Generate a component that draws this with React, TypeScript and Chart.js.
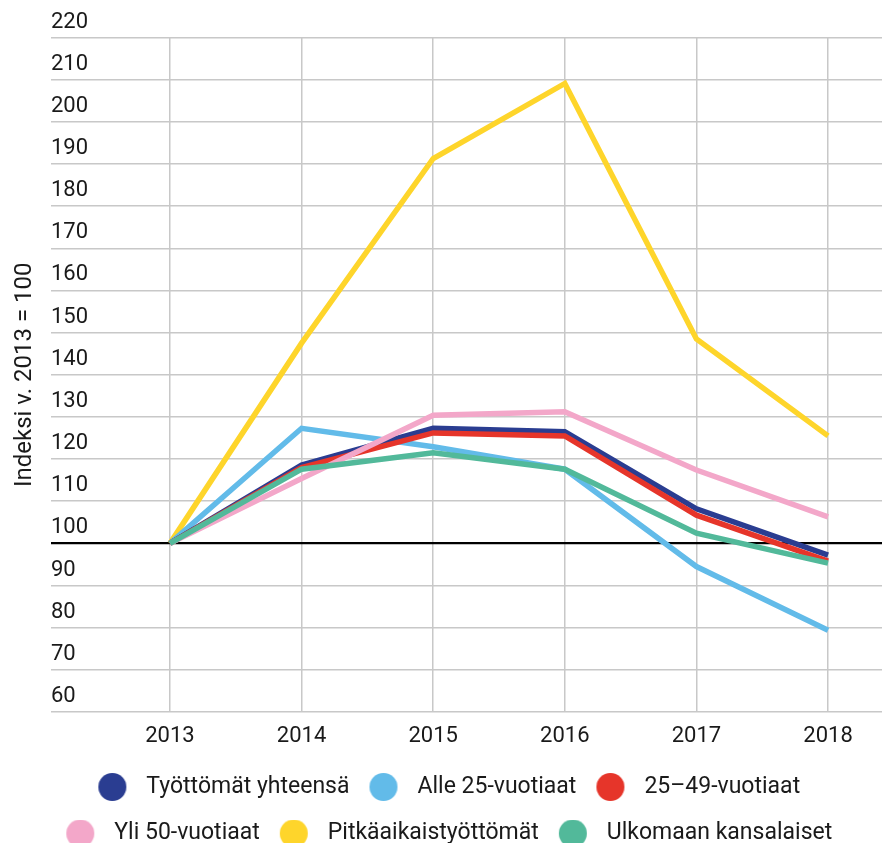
import React, { useEffect, useRef } from "react";
import { Chart, registerables } from "chart.js";

Chart.register(...registerables);

// ---- Data ----
const years = [2013, 2014, 2015, 2016, 2017, 2018];
const yTickValues = [60, 70, 80, 90, 100, 110, 120, 130, 140, 150, 160, 170, 180, 190, 200, 210, 220];

const seriesNames = [
  "Työttömät yhteensä",
  "Alle 25-vuotiaat",
  "25–49-vuotiaat",
  "Yli 50-vuotiaat",
  "Pitkäaikaistyöttömät",
  "Ulkomaan kansalaiset",
];

const totalUnemployed = [100, 118.6, 127.3, 126.5, 108.2, 97.2];
const under25 = [100, 127.3, 122.9, 117.6, 94.5, 79.4];
const age25to49 = [100, 118.0, 126.2, 125.5, 106.7, 95.8];
const over50 = [100, 115.4, 130.4, 131.2, 117.4, 106.3];
const longTerm = [100, 147.5, 191.3, 209.1, 148.5, 125.5];
const foreignNationals = [100, 117.6, 121.5, 117.6, 102.4, 95.3];

const yTitle = "Indeksi v. 2013 = 100";

// ---- Styles ----
const colors = ["#2a3d91", "#62bbe9", "#e6352a", "#f3a7c9", "#fed52b", "#52b99a"];
const drawOrder = [3, 4, 2, 1, 5, 0];
const gridGray = "#c8c8c8";
const textColor = "#1a1a1a";
const FONT = "Roboto";

const LEGEND_FONT = 23;
const LEGEND_PAD = 23.5;
const LEGEND_BOX = 33;

function makeDot(color: string): HTMLCanvasElement {
  const c = document.createElement("canvas");
  c.width = 42;
  c.height = 28;
  const g = c.getContext("2d")!;
  g.fillStyle = color;
  g.beginPath();
  g.arc(15, 14, 14, 0, Math.PI * 2);
  g.fill();
  return c;
}

export default function App() {
  const ref = useRef<HTMLCanvasElement>(null);

  useEffect(() => {
    document.body.style.margin = "0";
    const canvas = ref.current!;
    const allSeries = [totalUnemployed, under25, age25to49, over50, longTerm, foreignNationals];
    const dots = colors.map(makeDot);

    const chart = new Chart(canvas, {
      type: "line",
      data: {
        datasets: allSeries.map((vals, i) => ({
          label: seriesNames[i],
          data: years.map((x, j) => ({ x, y: vals[j] })),
          borderColor: colors[i],
          backgroundColor: colors[i],
          borderWidth: 5.5,
          tension: 0,
          pointRadius: 0,
          pointHoverRadius: 0,
          fill: false,
          order: drawOrder[i],
        })),
      },
      options: {
        animation: false,
        responsive: false,
        devicePixelRatio: 1,
        events: [],
        layout: { padding: { top: 37.5, left: 0, right: -20, bottom: 0 } },
        plugins: {
          tooltip: { enabled: false },
          legend: {
            position: "bottom",
            align: "center",
            labels: {
              usePointStyle: true,
              pointStyleWidth: LEGEND_BOX,
              padding: LEGEND_PAD,
              color: textColor,
              font: { family: FONT, size: LEGEND_FONT },
              generateLabels: (ch: any) =>
                ch.data.datasets.map((ds: any, i: number) => ({
                  text: ds.label,
                  fillStyle: colors[i],
                  strokeStyle: colors[i],
                  lineWidth: 0,
                  pointStyle: dots[i],
                  hidden: false,
                  datasetIndex: i,
                  textAlign: "left",
                  fontColor: textColor,
                })),
            },
          },
        },
        scales: {
          x: {
            type: "linear",
            min: 2012.096,
            max: 2018.41,
            afterBuildTicks: (s: any) => {
              s.ticks = years.map((v) => ({ value: v }));
            },
            afterFit: (s: any) => {
              s.height = 40;
            },
            grid: { color: gridGray, lineWidth: 1.5, drawTicks: false },
            border: { display: false },
            ticks: {
              padding: 11,
              autoSkip: false,
              maxRotation: 0,
              color: textColor,
              font: { family: FONT, size: 22 },
              callback: (v: any) => String(v),
            },
          },
          y: {
            type: "linear",
            min: 60,
            max: 220,
            afterBuildTicks: (s: any) => {
              s.ticks = yTickValues.map((v) => ({ value: v }));
            },
            afterFit: (s: any) => {
              s.width = 51;
            },
            grid: {
              drawTicks: false,
              color: (c: any) => (c.tick && c.tick.value === 100 ? "#000000" : gridGray),
              lineWidth: (c: any) => (c.tick && c.tick.value === 100 ? 2.2 : 1.5),
            },
            border: { display: false },
            ticks: {
              mirror: true,
              padding: 0,
              labelOffset: -15.5,
              autoSkip: false,
              color: textColor,
              font: { family: FONT, size: 22 },
              callback: (v: any) => String(v),
            },
            title: {
              display: true,
              text: yTitle,
              color: textColor,
              font: { family: FONT, size: 24 },
              padding: { top: 11, bottom: 0 },
            },
          },
        },
      },
    } as any);

    return () => chart.destroy();
  }, []);

  return (
    <div style={{ width: 882, height: 843, overflow: "hidden", background: "#fff" }}>
      <canvas ref={ref} width={882} height={855} style={{ display: "block", width: 882, height: 855 }} />
    </div>
  );
}
